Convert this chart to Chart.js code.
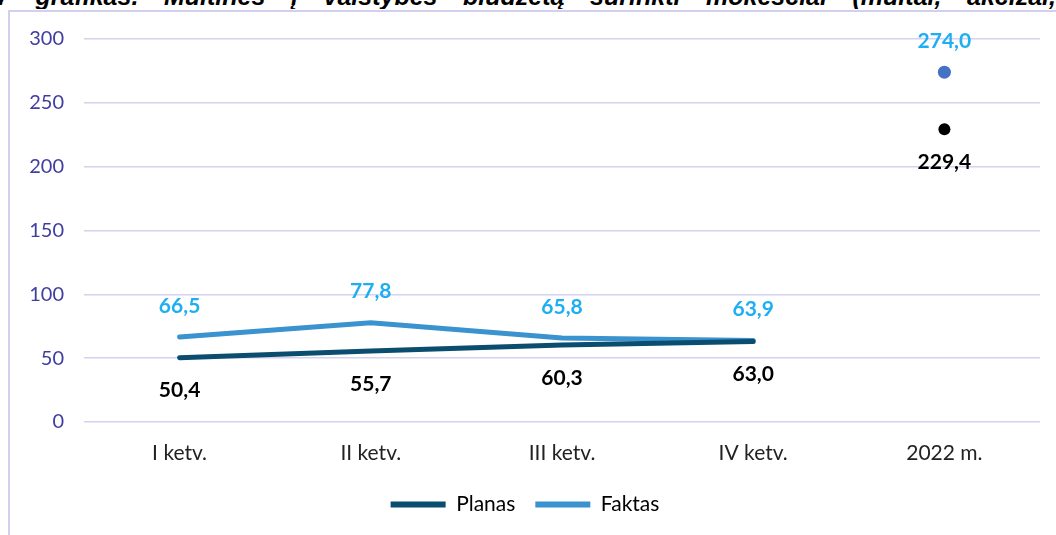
<!DOCTYPE html>
<html>
<head>
<meta charset="utf-8">
<script src="https://cdn.jsdelivr.net/npm/chart.js@4"></script>
<style>
  body { margin: 0; width: 1056px; height: 535px; overflow: hidden; background: #fff; position: relative; }
  #title {
    position: absolute; left: -4px; top: -16px; width: 1060px;
    font: italic bold 25px "Liberation Sans", Arial, sans-serif; line-height: 25px;
    text-align: justify; text-align-last: justify; white-space: nowrap; overflow: hidden; color: #000;
  }
  #box {
    position: absolute; left: 8px; top: 10px; width: 1048px; height: 525px;
    border-left: 2px solid #d3cfee; border-top: 2px solid #d3cfee; box-sizing: border-box;
  }
</style>
</head>
<body>
<div id="title">7 grafikas. Muitinės į valstybės biudžetą surinkti mokesčiai (muitai, akcizai,</div>
<div id="box"><canvas id="chart"></canvas></div>
<script>
const categories = ["I ketv.", "II ketv.", "III ketv.", "IV ketv.", "2022 m."];
const planas = [50.4, 55.7, 60.3, 63.0, 229.4];
const faktas = [66.5, 77.8, 65.8, 63.9, 274.0];
const yTicks = [0, 50, 100, 150, 200, 250, 300];

const ctx = document.getElementById("chart");
ctx.width = 1046;
ctx.height = 523;

const FONT = "Lato, 'Open Sans', sans-serif";

// Format numbers with comma decimal
function fmt(v) {
  return v.toFixed(1).replace(".", ",");
}

// Value labels above / below the points
const valueLabels = {
  id: "valueLabels",
  afterDatasetsDraw(chart) {
    const c = chart.ctx;
    c.save();
    c.font = "bold 21px " + FONT;
    c.textAlign = "center";
    c.textBaseline = "middle";
    chart.data.datasets.forEach((ds, i) => {
      const meta = chart.getDatasetMeta(i);
      meta.data.forEach((pt, j) => {
        c.fillStyle = ds.labelColor;
        c.fillText(fmt(ds.data[j]), pt.x, pt.y + ds.labelOffset);
      });
    });
    c.restore();
  },
};

// Hide the joining segment to the yearly total
const lastSegment = (ctx) => (ctx.p1DataIndex === 4 ? "transparent" : undefined);

new Chart(ctx, {
  type: "line",
  data: {
    labels: categories,
    datasets: [
      {
        label: "Planas",
        data: planas,
        borderColor: "#0b4d6f",
        backgroundColor: "#0b4d6f",
        borderWidth: 5,
        borderCapStyle: "round",
        pointRadius: [0, 0, 0, 0, 6],
        pointBackgroundColor: "#000",
        pointBorderWidth: 0,
        segment: { borderColor: lastSegment },
        labelColor: "#000",
        labelOffset: 33,
      },
      {
        label: "Faktas",
        data: faktas,
        borderColor: "#3a92cf",
        backgroundColor: "#3a92cf",
        borderWidth: 5,
        borderCapStyle: "round",
        pointRadius: [0, 0, 0, 0, 6.5],
        pointBackgroundColor: "#4472c4",
        pointBorderWidth: 0,
        segment: { borderColor: lastSegment },
        labelColor: "#1eaef2",
        labelOffset: -31,
      },
    ],
  },
  options: {
    responsive: false,
    animation: false,
    layout: { padding: { top: 27, right: 16, bottom: 10, left: 0 } },
    plugins: {
      tooltip: { enabled: false },
      legend: {
        position: "bottom",
        labels: {
          boxWidth: 55,
          boxHeight: 6,
          padding: 20,
          color: "#3f3ea0",
          font: { family: FONT, size: 21 },
          generateLabels: (chart) =>
            chart.data.datasets.map((ds, i) => ({
              text: ds.label,
              fillStyle: ds.borderColor,
              strokeStyle: ds.borderColor,
              lineWidth: 0,
              datasetIndex: i,
            })),
        },
      },
    },
    scales: {
      x: {
        offset: true,
        grid: { display: false },
        border: { display: false },
        afterFit: (scale) => {
          scale.height = 52;
        },
        ticks: {
          color: "#222",
          padding: 11,
          font: { family: FONT, size: 21 },
        },
      },
      y: {
        min: 0,
        max: 300,
        afterBuildTicks: (scale) => {
          scale.ticks = yTicks.map((v) => ({ value: v }));
        },
        afterFit: (scale) => {
          scale.width = 74;
          // tick padding is only meant horizontally
          scale.paddingTop = 12;
          scale.paddingBottom = 12;
        },
        grid: { color: "#d5d2f0", lineWidth: 1.5, drawTicks: false },
        border: { display: false },
        ticks: {
          color: "#3f3ea0",
          padding: 20,
          font: { family: FONT, size: 20 },
        },
      },
    },
  },
  plugins: [valueLabels],
});
</script>
</body>
</html>
